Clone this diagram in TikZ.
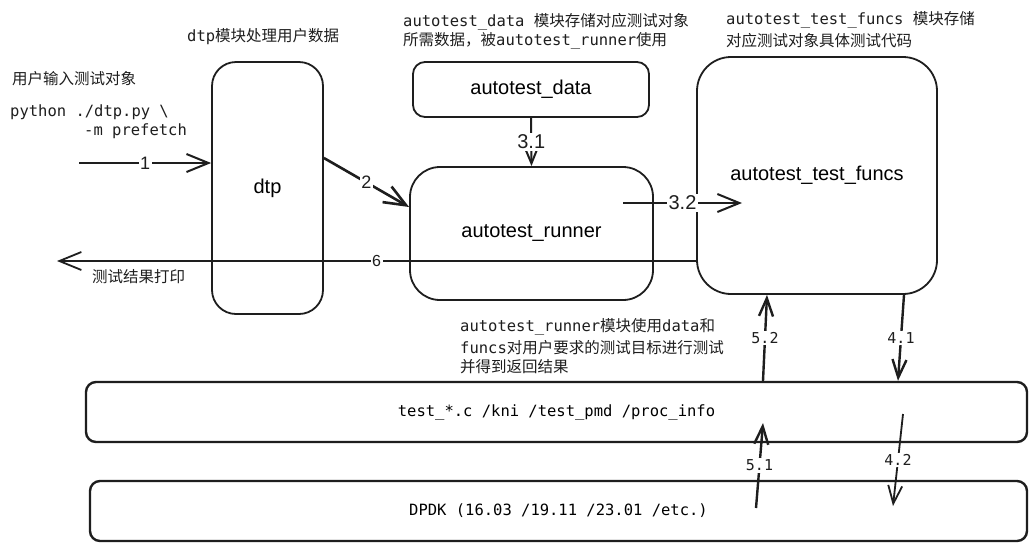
\documentclass[tikz,border=0pt]{standalone}
\usepackage{fontspec}
\setmainfont{Liberation Sans}
\setmonofont{DejaVu Sans Mono}
\newfontfamily\cjkfont{Noto Sans CJK SC}
\usetikzlibrary{arrows.meta}
\newcommand\zh[1]{{\cjkfont #1}}
\definecolor{ink}{HTML}{1E1E1E}
\begin{document}
\begin{tikzpicture}[x=1pt,y=-1pt,
  box/.style={draw=ink, line width=1.8pt, rounded corners=#1, inner sep=0pt,
    font=\fontsize{20}{24}\selectfont},
  wide/.style={draw=ink, line width=2.4pt, rounded corners=10pt, inner sep=0pt,
    font=\ttfamily\fontsize{15.5}{19}\selectfont},
  mono/.style={font=\ttfamily\fontsize{15.5}{19}\selectfont, inner sep=0pt, anchor=west, text=ink},
  arr/.style={draw=ink, line width=2pt, -{Straight Barb[length=22pt,width=18pt]}},
  sarr/.style={draw=ink, line width=2.4pt, -{Straight Barb[length=18pt,width=14pt]}},
  lbl/.style={fill=white, inner sep=1.5pt, text=ink, font=\fontsize{18}{20}\selectfont},
  blbl/.style={fill=white, inner sep=1.5pt, text=ink, font=\fontsize{20}{22}\selectfont},
  mlbl/.style={fill=white, inner sep=1.5pt, text=ink, font=\ttfamily\fontsize{15}{18}\selectfont}
]
\useasboundingbox[fill=white] (0,0) rectangle (1033,550);

% boxes
\node[box=24pt, minimum width=111pt, minimum height=252pt] (dtp) at (267.5,188) {dtp};
\node[box=12pt, minimum width=236pt, minimum height=55pt] (data) at (531,89.5) {autotest\_data};
\node[box=30pt, minimum width=243pt, minimum height=133pt] (runner) at (531.5,233.5) {autotest\_runner};
\node[box=34pt, minimum width=240pt, minimum height=237pt] (funcs) at (817,175.5) {autotest\_test\_funcs};
\node[wide, minimum width=941pt, minimum height=60pt] (test) at (556.5,412) {test\_*.c /kni /test\_pmd /proc\_info};
\node[wide, minimum width=937pt, minimum height=60pt] (dpdk) at (558.5,511) {DPDK (16.03 /19.11 /23.01 /etc.)};

% annotations
\node[mono] (t1) at (12,79) {\zh{用户输入测试对象}};
\node[mono] (t2) at (10,112) {python ./dtp.py \textbackslash};
\node[mono] (t3) at (84,131) {-m prefetch};
\node[mono] (t4) at (187,37) {dtp\zh{模块处理用户数据}};
\node[mono] (t5) at (403,22) {autotest\_data \zh{模块存储对应测试对象}};
\node[mono] (t6) at (403,41) {\zh{所需数据，被}autotest\_runner\zh{使用}};
\node[mono] (t7) at (726,20) {autotest\_test\_funcs \zh{模块存储}};
\node[mono] (t8) at (726,41) {\zh{对应测试对象具体测试代码}};
\node[mono] (t9) at (460,327) {autotest\_runner\zh{模块使用}data\zh{和}};
\node[mono] (t10) at (460,348) {funcs\zh{对用户要求的测试目标进行测试}};
\node[mono] (t11) at (460,367) {\zh{并得到返回结果}};
\node[mono] (t12) at (92,277) {\zh{测试结果打印}};

% connector end points
\coordinate (s1) at (79,163);
\coordinate (y2a) at (0,158);
\coordinate (y2b) at (0,207);
\coordinate (c32a) at (623,203);
\coordinate (c32b) at (742,203);
\coordinate (y6) at (0,261);
\coordinate (e6) at (57,261);
\coordinate (x52a) at (763,0);
\coordinate (x52b) at (767,0);
\coordinate (x41a) at (904,0);
\coordinate (x41b) at (898,0);
\coordinate (s51) at (756,508);
\coordinate (e51) at (763,423);
\coordinate (s42) at (903,414);
\coordinate (e42) at (893,506);

% connectors
\draw[arr] (s1) -- node[lbl] {1} (s1 -| dtp.west);
\draw[arr, line width=2.6pt] (dtp.east |- y2a) -- node[lbl] {2} (runner.west |- y2b);
\draw[arr] (data.south) -- node[blbl] {3.1} (runner.north);
\draw[arr] (c32a) -- node[blbl] {3.2} (c32b);
\draw[arr, line width=1.8pt] (funcs.west |- y6) -- node[lbl, font=\fontsize{16}{18}\selectfont] {6} (e6);
\draw[sarr] (x52a |- test.north) -- node[mlbl] {5.2} (x52b |- funcs.south);
\draw[sarr] (x41a |- funcs.south) -- node[mlbl] {4.1} (x41b |- test.north);
\draw[sarr] (s51) -- node[mlbl] {5.1} (e51);
\draw[sarr, line width=1.8pt] (s42) -- node[mlbl] {4.2} (e42);
\end{tikzpicture}
\end{document}
